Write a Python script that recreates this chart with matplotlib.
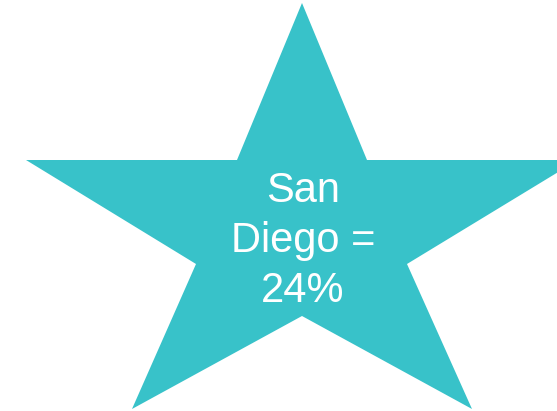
import matplotlib
matplotlib.use("Agg")
import matplotlib.pyplot as plt
from matplotlib.patches import Polygon

# star outline (pixel space of the 557x411 picture, y downwards)
star_x = [302, 367, 578, 407, 472, 302, 132, 196, 26, 237]
star_y = [3, 160, 160, 264, 409, 316, 409, 264, 160, 160]
label = "San\nDiego =\n24%"
star_color = "#38C2C9"

fig = plt.figure(figsize=(5.57, 4.11), dpi=100)
ax = fig.add_axes([0, 0, 1, 1])
ax.set_xlim(0, 557)
ax.set_ylim(411, 0)
ax.axis("off")

ax.add_patch(Polygon(list(zip(star_x, star_y)), closed=True,
                     facecolor=star_color, edgecolor="none"))
ax.text(303, 241, label, color="white", fontsize=30,
        family="Liberation Sans", ha="center", va="center",
        multialignment="center", linespacing=1.33)

fig.savefig("out.png", dpi=100)
